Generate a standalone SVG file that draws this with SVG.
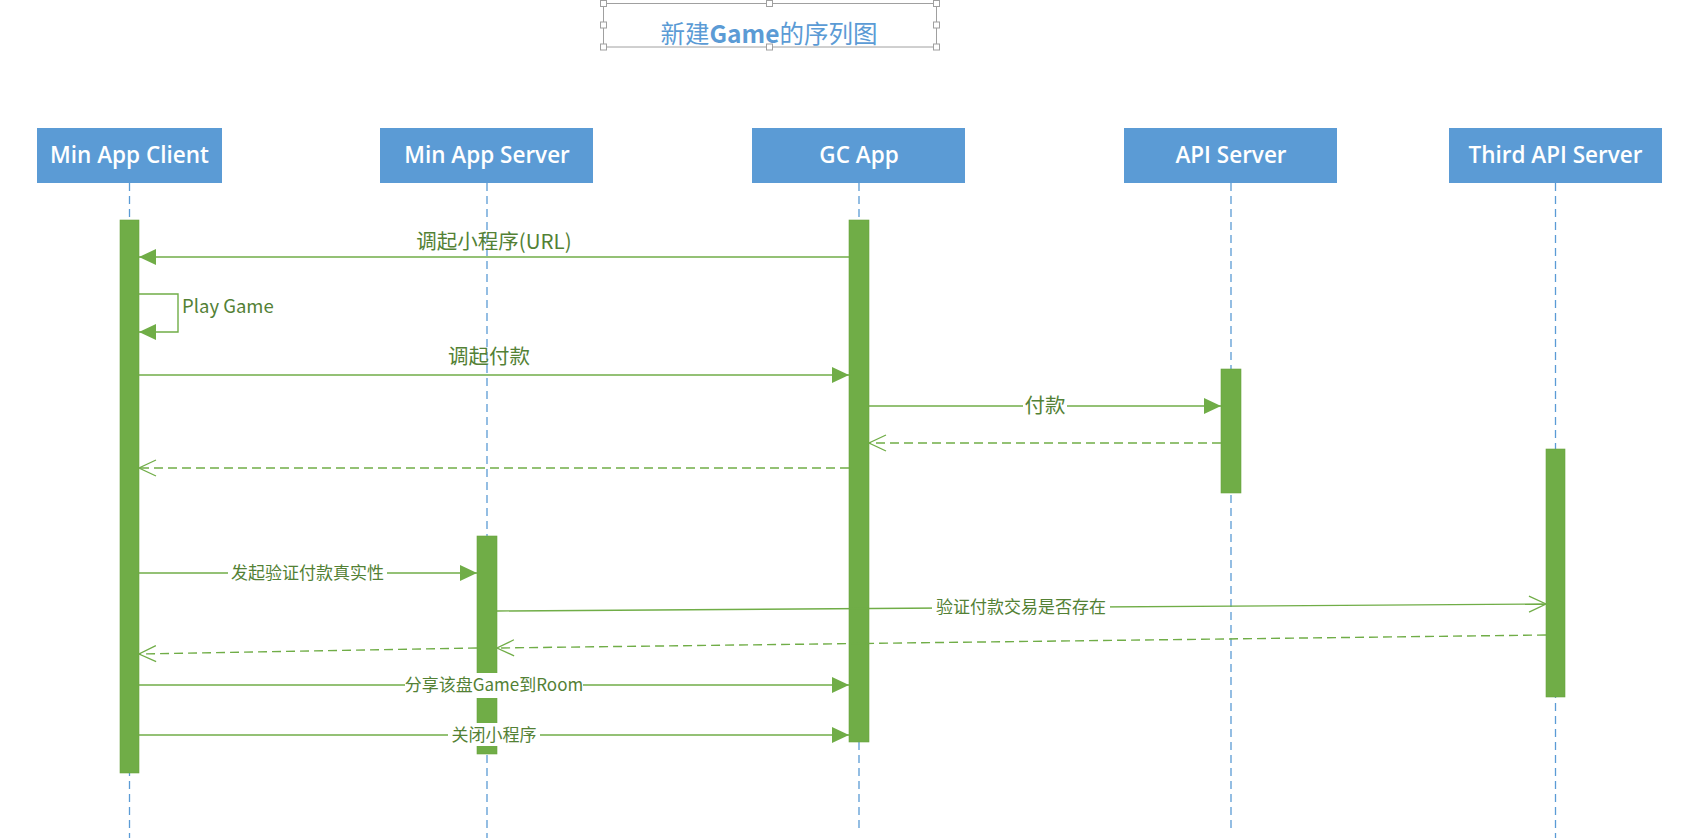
<svg xmlns="http://www.w3.org/2000/svg" width="1689" height="840" viewBox="0 0 1689 840">
<style>
.hdr{fill:#5B9BD5}
.hdrt{fill:#fff;font-family:"Open Sans","Noto Sans",sans-serif;font-weight:600;font-size:22.5px;text-anchor:middle}
.life{stroke:#5B9BD5;stroke-width:1.3;stroke-dasharray:8 5;fill:none}
.bar{fill:#70AD47;stroke:#6AA33F;stroke-width:0.6}
.msg{stroke:#70AD47;stroke-width:1.4;fill:none}
.ret{stroke:#70AD47;stroke-width:1.4;fill:none;stroke-dasharray:9 5}
.lbl{fill:#538135;font-family:"Noto Sans CJK SC","Noto Sans",sans-serif;text-anchor:middle}
.big{font-size:20.5px}
.sm{font-size:17px}
.bg{fill:#fff}
.hdl{fill:#fff;stroke:#A0A0A0;stroke-width:1}
</style>
<defs>
<marker id="fa" markerUnits="userSpaceOnUse" markerWidth="18" markerHeight="18" refX="17" refY="8" orient="auto">
<path d="M0,0 L17,8 L0,16 z" fill="#70AD47"/>
</marker>
<marker id="oa" markerUnits="userSpaceOnUse" markerWidth="20" markerHeight="20" refX="18" refY="9" orient="auto">
<path d="M1,1 L18,9 L1,17" fill="none" stroke="#70AD47" stroke-width="1.3"/>
</marker>
</defs>
<rect width="1689" height="840" fill="#fff"/>

<g id="title">
<rect x="603.5" y="3.5" width="333" height="43.5" fill="none" stroke="#A0A0A0" stroke-width="1"/>
<rect class="hdl" x="600.5" y="0.5" width="6" height="6"/>
<rect class="hdl" x="766.5" y="0.5" width="6" height="6"/>
<rect class="hdl" x="933.5" y="0.5" width="6" height="6"/>
<rect class="hdl" x="600.5" y="22" width="6" height="6"/>
<rect class="hdl" x="933.5" y="22" width="6" height="6"/>
<rect class="hdl" x="600.5" y="44" width="6" height="6"/>
<rect class="hdl" x="766.5" y="44" width="6" height="6"/>
<rect class="hdl" x="933.5" y="44" width="6" height="6"/>
<text x="769" y="43" fill="#5B9BD5" font-family="Noto Sans CJK SC, Noto Sans, sans-serif" font-size="24.5" text-anchor="middle">新建<tspan font-weight="bold">Game</tspan>的序列图</text>
</g>

<g id="min-app-client">
<rect class="hdr" x="37" y="128" width="185" height="55"/>
<text class="hdrt" x="129.5" y="163">Min App Client</text>
<line class="life" x1="129.5" y1="183" x2="129.5" y2="838"/>
<rect class="bar" x="120" y="220" width="19" height="553"/>
</g>

<g id="min-app-server">
<rect class="hdr" x="380" y="128" width="213" height="55"/>
<text class="hdrt" x="487" y="163">Min App Server</text>
<line class="life" x1="487" y1="183" x2="487" y2="838"/>
<rect class="bar" x="477" y="536" width="20" height="218"/>
</g>

<g id="gc-app">
<rect class="hdr" x="752" y="128" width="213" height="55"/>
<text class="hdrt" x="859" y="163">GC App</text>
<line class="life" x1="859" y1="183" x2="859" y2="830"/>
<rect class="bar" x="849" y="220" width="20" height="522"/>
</g>

<g id="api-server">
<rect class="hdr" x="1124" y="128" width="213" height="55"/>
<text class="hdrt" x="1231" y="163">API Server</text>
<line class="life" x1="1231" y1="183" x2="1231" y2="830"/>
<rect class="bar" x="1221" y="369" width="20" height="124"/>
</g>

<g id="third-api-server">
<rect class="hdr" x="1449" y="128" width="213" height="55"/>
<text class="hdrt" x="1555.5" y="163">Third API Server</text>
<line class="life" x1="1555.5" y1="183" x2="1555.5" y2="838"/>
<rect class="bar" x="1546" y="449" width="19" height="248"/>
</g>

<g id="connectors">
<line class="msg" x1="849" y1="257" x2="139" y2="257" marker-end="url(#fa)"/>
<text class="lbl big" x="494" y="249">调起小程序(URL)</text>

<path class="msg" d="M139,294 H178 V332 H139" marker-end="url(#fa)"/>
<text class="lbl" x="182" y="313" font-size="18.5" style="text-anchor:start">Play Game</text>

<line class="msg" x1="139" y1="375" x2="849" y2="375" marker-end="url(#fa)"/>
<text class="lbl big" x="489" y="364">调起付款</text>

<line class="msg" x1="869" y1="406" x2="1221" y2="406" marker-end="url(#fa)"/>
<rect class="bg" x="1023" y="394" width="44" height="23"/>
<text class="lbl big" x="1045" y="413">付款</text>

<line class="ret" x1="1221" y1="443" x2="869" y2="443" marker-end="url(#oa)"/>
<line class="ret" x1="849" y1="468" x2="139" y2="468" marker-end="url(#oa)"/>

<line class="msg" x1="139" y1="573" x2="477" y2="573" marker-end="url(#fa)"/>
<rect class="bg" x="228" y="562" width="159" height="22"/>
<text class="lbl sm" x="307.5" y="579">发起验证付款真实性</text>

<line class="msg" x1="497" y1="611" x2="1546" y2="604" marker-end="url(#oa)"/>
<rect class="bg" x="932" y="596" width="178" height="22"/>
<text class="lbl sm" x="1021" y="613">验证付款交易是否存在</text>

<line class="ret" x1="1546" y1="635" x2="497" y2="648" marker-end="url(#oa)"/>
<line class="ret" x1="477" y1="648" x2="139" y2="654" marker-end="url(#oa)"/>

<line class="msg" x1="139" y1="685" x2="849" y2="685" marker-end="url(#fa)"/>
<rect class="bg" x="405" y="673" width="178" height="25"/>
<text class="lbl sm" x="494" y="691">分享该盘Game到Room</text>

<line class="msg" x1="139" y1="735" x2="849" y2="735" marker-end="url(#fa)"/>
<rect class="bg" x="448" y="723" width="92" height="23"/>
<text class="lbl sm" x="494" y="741">关闭小程序</text>
</g>
</svg>
